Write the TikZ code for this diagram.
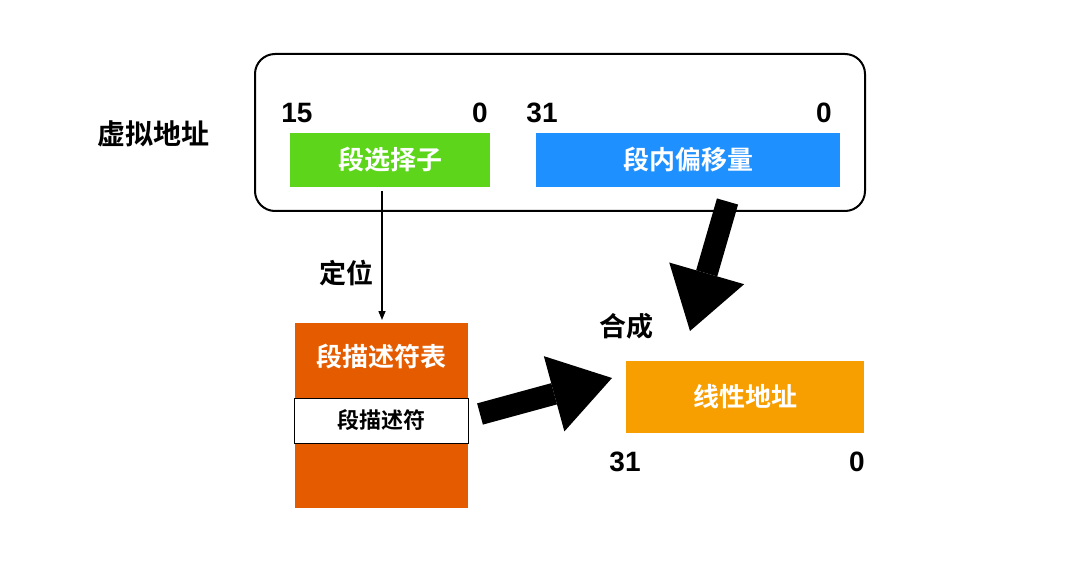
\documentclass[tikz,border=0pt]{standalone}
\usepackage{fontspec}
\setmainfont{Liberation Sans}
\newfontfamily\cjk{Noto Sans CJK SC}[BoldFont={* Bold}]
\usetikzlibrary{arrows.meta}
\definecolor{selgreen}{HTML}{5CD51B}
\definecolor{offblue}{HTML}{1E90FF}
\definecolor{tabred}{HTML}{E55C00}
\definecolor{linorange}{HTML}{F79F00}
\begin{document}
\begin{tikzpicture}[x=1pt,y=-1pt,
  lbl/.style={font=\cjk\bfseries\fontsize{27}{27}\selectfont, text=black},
  num/.style={font=\bfseries\fontsize{28}{28}\selectfont, text=black},
  colbox/.style={inner sep=0pt, font=\cjk\bfseries\fontsize{26}{26}\selectfont, text=white},
  bigarrow/.style={line width=22pt, -{Triangle[length=60pt,width=78pt,line width=0pt]}},
  thinarrow/.style={line width=1.4pt, -{Triangle[length=9pt,width=7pt]}}]
\useasboundingbox (0,0) rectangle (1080,567);
% virtual address frame
\draw[line width=2pt, rounded corners=20pt] (255,54) rectangle (865,211);
\node[lbl, font=\cjk\bfseries\fontsize{28}{28}\selectfont] (va) at (153,134) {虚拟地址};
\node[num] (n15) at (297,113) {15};
\node[num] (n0a) at (480,113) {0};
\node[num] (n31a) at (542,113) {31};
\node[num] (n0b) at (824,113) {0};
\node[colbox, fill=selgreen, minimum width=200pt, minimum height=54pt] (sel) at (390,160) {段选择子};
\node[colbox, fill=offblue, minimum width=304pt, minimum height=54pt] (off) at (688,160) {段内偏移量};
% descriptor table
\node[colbox, fill=tabred, minimum width=173pt, minimum height=185pt, anchor=north west] (tab) at (295,323) {};
\node[colbox] (tabl) at (381.5,357) {段描述符表};
\node[draw=black, line width=0.8pt, fill=white, inner sep=0pt, minimum width=174pt, minimum height=45pt,
      font=\cjk\bfseries\fontsize{22}{22}\selectfont] (desc) at (381,420.5) {段描述符};
% thin arrow
\coordinate (s1) at (382,191);
\coordinate (s2) at (382,320);
\draw[thinarrow] (s1) -- (s2);
\node[lbl] (pos) at (346,273) {定位};
% linear address
\node[colbox, fill=linorange, minimum width=238pt, minimum height=72pt] (lin) at (745,397) {线性地址};
\node[lbl] (hc) at (626,326) {合成};
\node[num] (n31b) at (625,462) {31};
\node[num] (n0c) at (857,462) {0};
% big arrows
\coordinate (a1s) at (480,414);
\coordinate (a1e) at (612,378);
\coordinate (a2s) at (727.5,201.5);
\coordinate (a2e) at (690,331);
\draw[bigarrow] (a1s) -- (a1e);
\draw[bigarrow] (a2s) -- (a2e);
\end{tikzpicture}
\end{document}
